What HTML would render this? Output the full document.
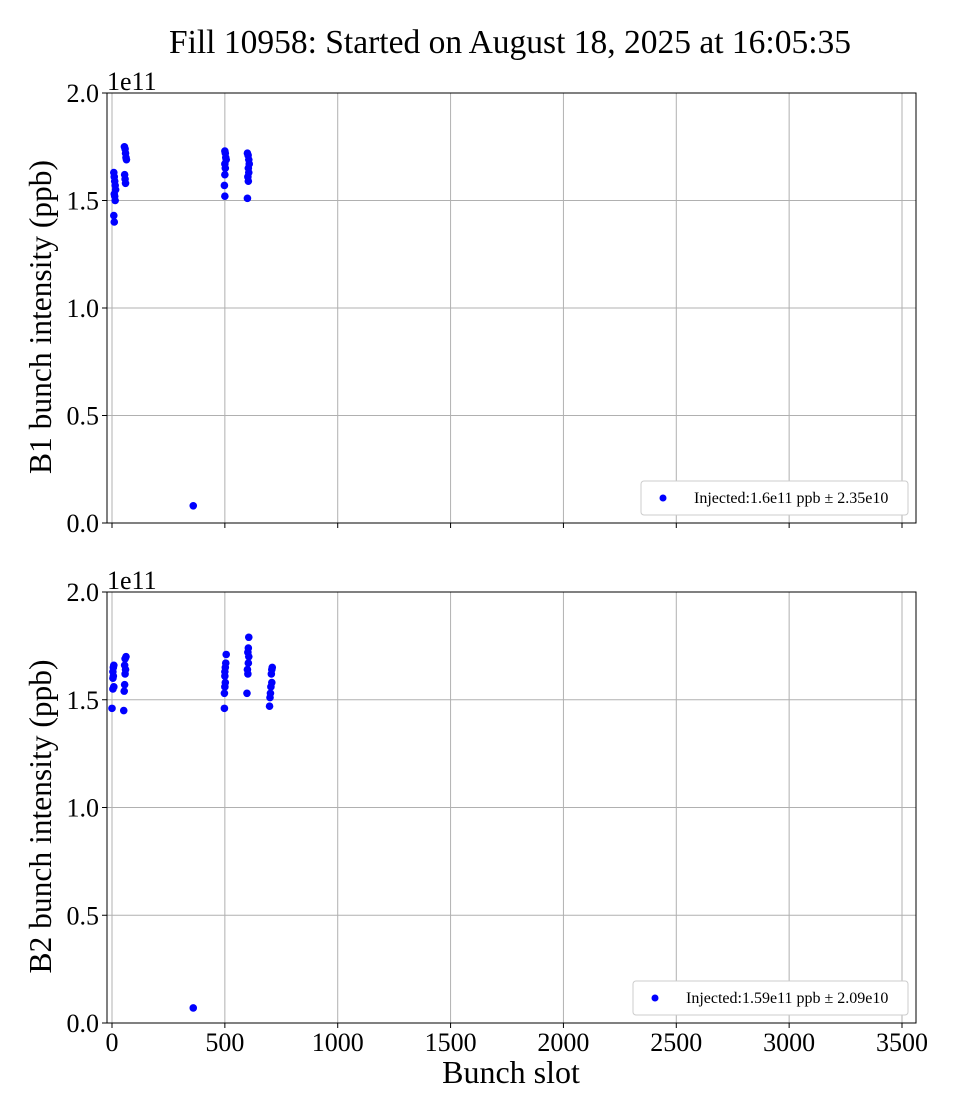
<!DOCTYPE html>
<html><head><meta charset="utf-8"><style>
body{margin:0;background:#fff}
svg{display:block;font-family:"Liberation Serif",serif}
</style></head><body>
<svg id="c" width="960" height="1120"></svg>
<script>
const xTicks=[0,500,1000,1500,2000,2500,3000,3500];
const yTicks=[0,0.5,1.0,1.5,2.0];
const yTickLabels=["0.0","0.5","1.0","1.5","2.0"];
const b1x=[8,10,12,14,16,10,12,14,8,10, 55,58,60,62,64,56,58,60, 500,502,504,506,500,502,500,498,500, 600,603,606,608,604,606,602,604,600, 360];
const b1y=[1.63,1.61,1.59,1.57,1.55,1.53,1.52,1.50,1.43,1.40, 1.75,1.74,1.72,1.70,1.69,1.62,1.60,1.58, 1.73,1.72,1.70,1.69,1.67,1.65,1.62,1.57,1.52, 1.72,1.71,1.69,1.67,1.65,1.63,1.61,1.59,1.51, 0.08];
const b2x=[8,6,4,6,4,8,4,0, 62,58,56,60,58,56,54,52, 506,504,502,500,500,502,500,498,498, 606,604,602,606,604,600,602,598, 710,708,706,708,704,702,700,698, 360];
const b2y=[1.66,1.65,1.63,1.61,1.60,1.56,1.55,1.46, 1.70,1.69,1.66,1.64,1.62,1.57,1.54,1.45, 1.71,1.67,1.65,1.63,1.61,1.58,1.56,1.53,1.46, 1.79,1.74,1.72,1.70,1.67,1.64,1.62,1.53, 1.65,1.64,1.62,1.58,1.56,1.53,1.51,1.47, 0.07];
const NS="http://www.w3.org/2000/svg";
const svg=document.getElementById('c');
function mk(t,a,txt){const e=document.createElementNS(NS,t);for(const k in a)e.setAttribute(k,a[k]);if(txt!==undefined)e.textContent=txt;svg.appendChild(e);return e;}
const L=107,R=916;
const sx=v=>112+v*(790/3500);
function panel(top,bot,xs,ys,name,leg,showX){
  const sy=v=>bot-v*(bot-top)/2.0;
  xTicks.forEach(t=>{const g=mk('line',{x1:sx(t),x2:sx(t),y1:top,y2:bot,stroke:'#b0b0b0','stroke-width':1});
    
    const k=mk('line',{x1:sx(t),x2:sx(t),y1:bot,y2:bot+5,stroke:'#000'});
    if(showX){const l=mk('text',{x:sx(t),y:bot+28,'text-anchor':'middle','font-size':26},t);}
  });
  yTicks.forEach((t,i)=>{const g=mk('line',{x1:L,x2:R,y1:sy(t),y2:sy(t),stroke:'#b0b0b0','stroke-width':1});
    
    const k=mk('line',{x1:L-5,x2:L,y1:sy(t),y2:sy(t),stroke:'#000'});
    const l=mk('text',{x:L-8,y:sy(t)+9,'text-anchor':'end','font-size':26},yTickLabels[i]);
  });
  const f=mk('rect',{x:L,y:top,width:R-L,height:bot-top,fill:'none',stroke:'#000','stroke-width':1});
  
  const o=mk('text',{x:L,y:top-3,'font-size':26},'1e11');
  const yl=mk('text',{transform:`translate(51,${(top+bot)/2+9}) rotate(-90)`,'text-anchor':'middle','font-size':31.5},name.toUpperCase()+' bunch intensity (ppb)');
  
  xs.forEach((x,i)=>{const c=mk('circle',{cx:sx(x),cy:sy(ys[i]),r:3.8,fill:'#0000ff'});});
  const lw=leg.w,lx=R-8-lw,ly=bot-42;
  const lg=mk('rect',{x:lx,y:ly,width:lw,height:34,fill:'#fff',stroke:'#ccc',rx:3});
  const lm=mk('circle',{cx:lx+22,cy:ly+17,r:3.5,fill:'#0000ff'});
  const lt=mk('text',{x:lx+53,y:ly+22,'font-size':16},leg.t);
}
panel(93,523,b1x,b1y,'b1',{t:'Injected:1.6e11 ppb \u00b1 2.35e10',w:267},false);
panel(592,1023,b2x,b2y,'b2',{t:'Injected:1.59e11 ppb \u00b1 2.09e10',w:275},true);
const t=mk('text',{x:510,y:53,'text-anchor':'middle','font-size':33.5},'Fill 10958: Started on August 18, 2025 at 16:05:35');

const xl=mk('text',{x:511,y:1083,'text-anchor':'middle','font-size':32},'Bunch slot');

</script>
</body></html>
